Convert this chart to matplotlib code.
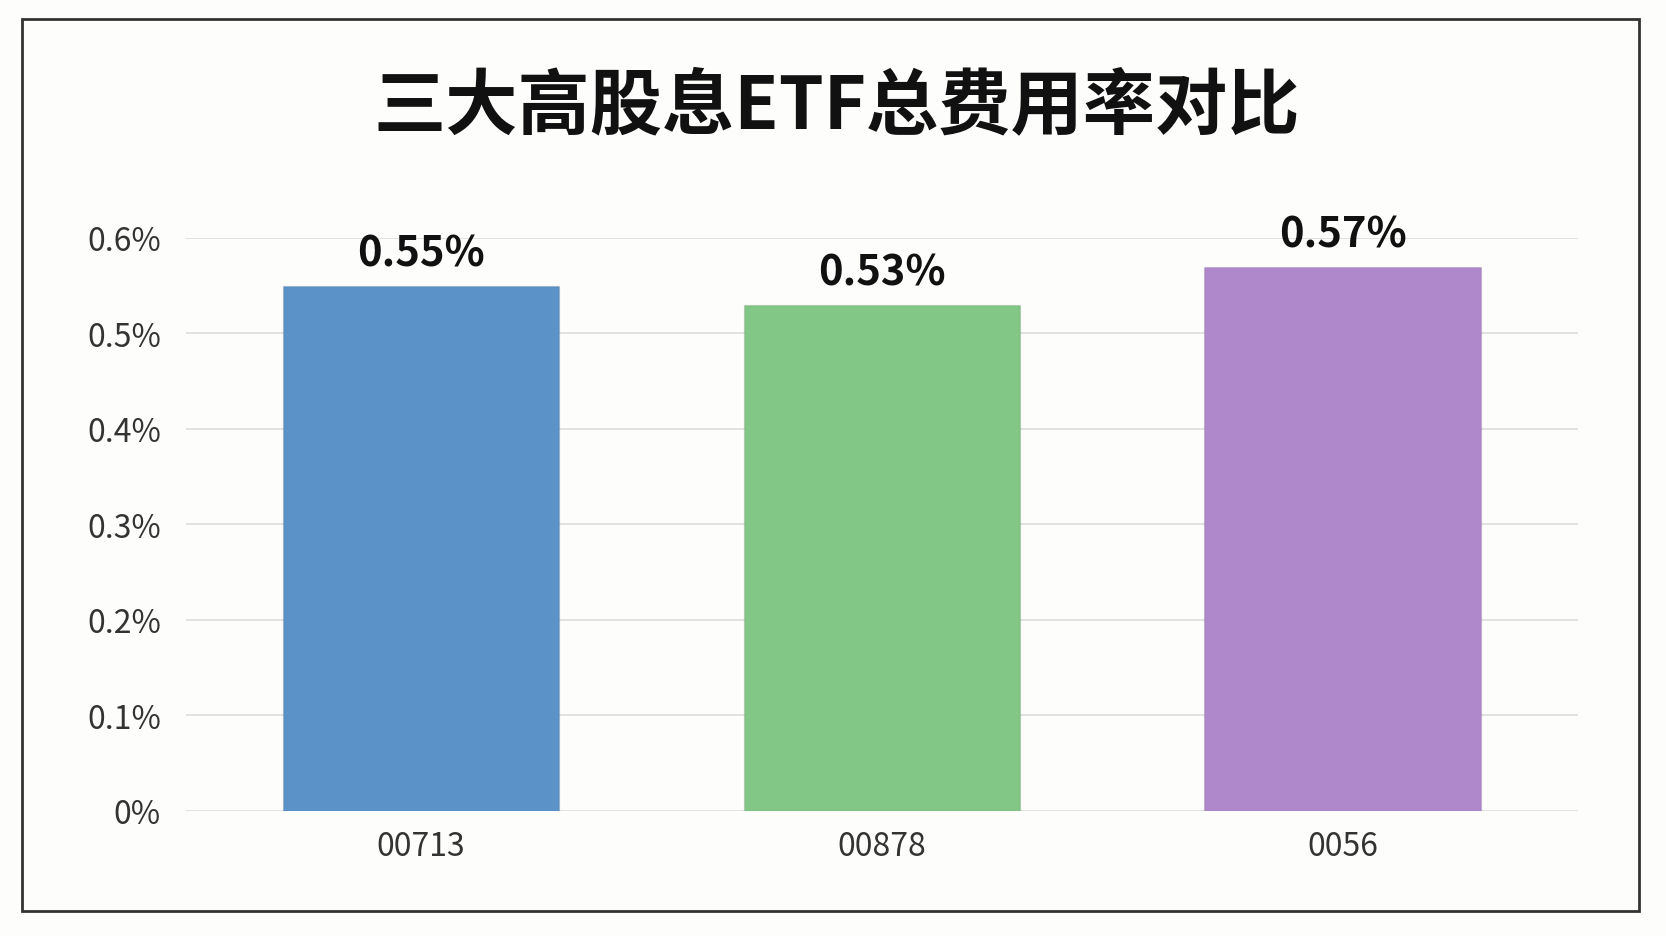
import matplotlib

matplotlib.use("Agg")
import matplotlib.pyplot as plt
from matplotlib.patches import Rectangle
from matplotlib.ticker import FuncFormatter

plt.rcParams["font.family"] = ["Noto Sans CJK SC", "DejaVu Sans"]

funds = ["00713", "00878", "0056"]
expense_ratio = [0.55, 0.53, 0.57]
labels = ["0.55%", "0.53%", "0.57%"]
colors = ["#5b93c8", "#82c785", "#ae88cb"]

fig = plt.figure(figsize=(16.66, 9.37), dpi=100)
fig.patch.set_facecolor("#fdfdfc")
fig.patches.append(Rectangle((0.013, 0.027), 0.971, 0.952, transform=fig.transFigure,
                             fill=False, edgecolor="#333333", linewidth=2))

fig.text(0.502, 0.886, "三大高股息ETF总费用率对比", ha="center", va="center",
         fontsize=52, fontweight="bold", color="#111111")

ax = fig.add_axes([0.1116, 0.1338, 0.8354, 0.6112])
ax.set_facecolor("#fdfdfc")
x = range(len(funds))
ax.bar(x, expense_ratio, width=0.6, color=colors, edgecolor="#00000018", zorder=3)
for xi, v, t in zip(x, expense_ratio, labels):
    ax.text(xi, v + 0.012, t, ha="center", va="bottom", fontsize=30,
            fontweight="bold", color="#111111")

ax.set_xlim(-0.51, 2.51)
ax.set_ylim(0, 0.6)
ax.set_yticks([0, 0.1, 0.2, 0.3, 0.4, 0.5, 0.6])
ax.yaxis.set_major_formatter(FuncFormatter(lambda v, _: "0%" if v == 0 else f"{v:.1f}%"))
ax.set_xticks(list(x))
ax.set_xticklabels(funds)
ax.tick_params(axis="both", length=0, labelsize=23, colors="#333333")
ax.tick_params(axis="x", pad=14)
ax.tick_params(axis="y", pad=18)
ax.grid(axis="y", color="#dddddd", linewidth=1.2, zorder=0)
for s in ax.spines.values():
    s.set_visible(False)

fig.savefig("out.png", dpi=100, facecolor=fig.get_facecolor())
